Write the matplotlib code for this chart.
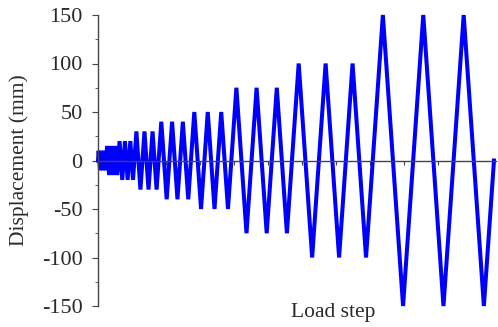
import numpy as np
import matplotlib
matplotlib.use('Agg')
import matplotlib.pyplot as plt
from matplotlib.ticker import MultipleLocator

plt.rcParams['font.family'] = ['Liberation Serif', 'DejaVu Serif']
plt.rcParams['axes.unicode_minus'] = False

# cyclic displacement protocol: amplitude (mm) and number of cycles at each level
amplitudes = [10, 15, 20, 30, 40, 50, 75, 100, 150]
cycles = [3, 3, 3, 3, 3, 3, 3, 3, 3]

# peak sequence 0, +A, -A, ..., 0
peaks = [0.0]
for a, n in zip(amplitudes, cycles):
    for _ in range(n):
        peaks += [a, -a]
peaks.append(0.0)
peaks = np.array(peaks)

# load step grows with displacement travelled
steps = np.concatenate([[0], np.cumsum(np.abs(np.diff(peaks)))])

fig = plt.figure(figsize=(4.98, 3.27), dpi=100)
ax = fig.add_axes([98/498, 1 - 306/327, 398/498, 291/327])

ax.plot(steps, peaks, color='#0000ff', lw=2.9, solid_joinstyle='bevel', clip_on=False)

ax.set_xlim(0, 5910)
ax.set_ylim(-150, 150)

ax.spines['top'].set_visible(False)
ax.spines['right'].set_visible(False)
ax.spines['bottom'].set_position(('data', 0))
for s in ('left', 'bottom'):
    ax.spines[s].set_color('#444444')
    ax.spines[s].set_linewidth(1.0)

ax.yaxis.set_major_locator(MultipleLocator(50))
ax.yaxis.set_minor_locator(MultipleLocator(25))
ax.xaxis.set_major_locator(MultipleLocator(505))
ax.tick_params(axis='y', which='both', direction='out', color='#444444',
               labelsize=16, labelcolor='#2a2a2a', pad=7)
ax.tick_params(axis='y', which='major', length=4)
ax.tick_params(axis='y', which='minor', length=2.5)
ax.tick_params(axis='x', direction='out', length=3, color='#444444', labelbottom=False)

ax.set_ylabel('Displacement (mm)', fontsize=15.5, color='#2a2a2a', labelpad=9)
ax.set_xlabel('Load step', fontsize=15.5, color='#2a2a2a')
ax.xaxis.set_label_coords(0.59, -0.024)
ax.xaxis.label.set_va('center')

fig.savefig('out.png', dpi=100)
